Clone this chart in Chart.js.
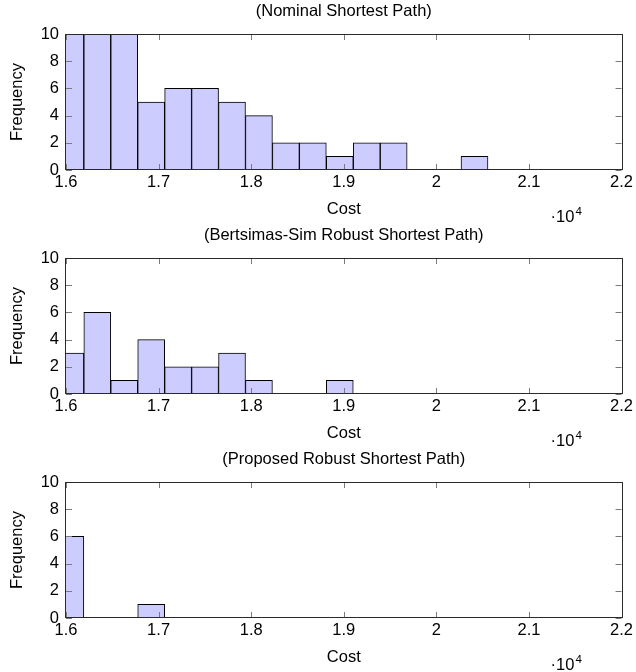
<!DOCTYPE html>
<html>
<head>
<meta charset="utf-8">
<script src="https://cdn.jsdelivr.net/npm/chart.js@4.4.1/dist/chart.umd.min.js"></script>
<style>
  html, body { margin: 0; padding: 0; background: #fff; }
  .panel { position: absolute; left: 0; width: 636px; height: 224px; }
  canvas { display: block; }
</style>
</head>
<body>
<div class="panel" style="top:0px"><canvas id="c0" width="636" height="224"></canvas></div>
<div class="panel" style="top:224px"><canvas id="c1" width="636" height="224"></canvas></div>
<div class="panel" style="top:448px"><canvas id="c2" width="636" height="224"></canvas></div>
<script>
// Histogram bin centres (cost); every bin is 291 wide
const binCenters = [16047, 16338, 16629, 16920, 17211, 17502, 17793, 18084,
                    18375, 18666, 18957, 19248, 19539, 19830, 20121, 20412];

// Frequency per bin for each method
const nominalCounts   = [10, 10, 10, 5, 6, 6, 5, 4, 2, 2, 1, 2, 2, 0, 0, 1];
const bertsimasCounts = [3, 6, 1, 4, 2, 2, 3, 1, 0, 0, 1, 0, 0, 0, 0, 0];
const proposedCounts  = [6, 0, 0, 1, 0, 0, 0, 0, 0, 0, 0, 0, 0, 0, 0, 0];

const panelTitles = [
  '(Nominal Shortest Path)',
  '(Bertsimas-Sim Robust Shortest Path)',
  '(Proposed Robust Shortest Path)'
];

// Axis ticks (x labels are shown in units of 10^4)
const xTickValues = [16000, 17000, 18000, 19000, 20000, 21000, 22000];
const xTickLabels = ['1.6', '1.7', '1.8', '1.9', '2', '2.1', '2.2'];
const yTickValues = [0, 2, 4, 6, 8, 10];

const FONT = '"Liberation Sans", Arial, Helvetica, sans-serif';
const FS = 16.5;
Chart.defaults.font.family = FONT;
Chart.defaults.color = '#000';

// Frame, inward tick marks and the x10^4 multiplier
const framePlugin = {
  id: 'pgfFrame',
  afterDatasetsDraw(chart) {
    const ctx = chart.ctx;
    const a = chart.chartArea;
    const xs = chart.scales.x, ys = chart.scales.y;
    ctx.save();
    ctx.lineWidth = 1;
    ctx.strokeStyle = '#7a7a7a';
    const tl = 6;
    ctx.beginPath();
    xTickValues.forEach(v => {
      const px = Math.round(xs.getPixelForValue(v)) + 0.5;
      ctx.moveTo(px, a.bottom); ctx.lineTo(px, a.bottom - tl);
      ctx.moveTo(px, a.top); ctx.lineTo(px, a.top + tl);
    });
    yTickValues.forEach(v => {
      const py = Math.round(ys.getPixelForValue(v)) + 0.5;
      ctx.moveTo(a.left, py); ctx.lineTo(a.left + tl, py);
      ctx.moveTo(a.right, py); ctx.lineTo(a.right - tl, py);
    });
    ctx.stroke();

    ctx.strokeStyle = '#2a2a2a';
    ctx.strokeRect(Math.round(a.left) - 0.5, Math.round(a.top) + 0.5,
                   Math.round(a.right - a.left) + 1, Math.round(a.bottom - a.top) - 1);

    // multiplier label under the right end of the x axis
    ctx.fillStyle = '#000';
    ctx.textBaseline = 'alphabetic';
    ctx.textAlign = 'left';
    ctx.font = FS + 'px ' + FONT;
    const mx = a.right - 71, my = chart.height - 2;
    ctx.fillText('\u00b710', mx, my);
    const w = ctx.measureText('\u00b710').width;
    ctx.font = '11.5px ' + FONT;
    ctx.fillText('4', mx + w + 1, my - 7);
    ctx.restore();
  }
};

function makePanel(id, title, counts) {
  return new Chart(document.getElementById(id), {
    type: 'bar',
    data: {
      datasets: [{
        data: binCenters.map((c, i) => ({ x: c, y: counts[i] })),
        backgroundColor: 'rgb(204,204,255)',
        borderColor: '#000',
        borderWidth: 1,
        borderSkipped: false,
        barPercentage: 1,
        categoryPercentage: 1,
        grouped: false
      }]
    },
    options: {
      responsive: false,
      animation: false,
      events: [],
      layout: { padding: { top: 0, right: 12, bottom: 0, left: 0 } },
      plugins: {
        legend: { display: false },
        tooltip: { enabled: false },
        title: {
          display: true,
          text: title,
          fullSize: false,
          color: '#000',
          font: { size: FS, weight: 'normal', lineHeight: 1.2 },
          padding: { top: 1.5, bottom: 12.7 }
        }
      },
      scales: {
        x: {
          type: 'linear',
          min: 16000,
          max: 22000,
          offset: false,
          grid: { display: false, drawTicks: false },
          border: { display: false },
          afterBuildTicks(s) { s.ticks = xTickValues.map(v => ({ value: v })); },
          afterFit(s) { s.height = 54; },
          ticks: {
            autoSkip: false,
            maxRotation: 0,
            minRotation: 0,
            padding: 3,
            color: '#000',
            font: { size: FS },
            callback: (v, i) => xTickLabels[i]
          },
          title: {
            display: true,
            text: 'Cost',
            color: '#000',
            font: { size: FS },
            padding: { top: 0, bottom: 4.5 }
          }
        },
        y: {
          min: 0,
          max: 10,
          grid: { display: false, drawTicks: false },
          border: { display: false },
          afterBuildTicks(s) { s.ticks = yTickValues.map(v => ({ value: v })); },
          afterFit(s) { s.width = 66; },
          ticks: {
            padding: 7,
            color: '#000',
            font: { size: FS }
          },
          title: {
            display: true,
            text: 'Frequency',
            color: '#000',
            font: { size: FS },
            padding: { top: 7.5, bottom: 0 }
          }
        }
      }
    },
    plugins: [framePlugin]
  });
}

makePanel('c0', panelTitles[0], nominalCounts);
makePanel('c1', panelTitles[1], bertsimasCounts);
makePanel('c2', panelTitles[2], proposedCounts);
</script>
</body>
</html>
